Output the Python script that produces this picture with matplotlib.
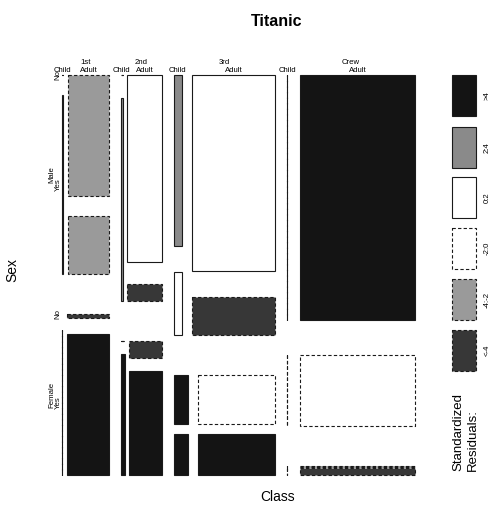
import numpy as np
import matplotlib
matplotlib.use("Agg")
import matplotlib.pyplot as plt
from matplotlib.patches import Rectangle

plt.rcParams['font.family'] = ['Liberation Sans', 'DejaVu Sans']

# Titanic passenger counts: Class x Sex x Age x Survived
classes = ["1st", "2nd", "3rd", "Crew"]
sexes = ["Male", "Female"]
ages = ["Child", "Adult"]
survived = ["No", "Yes"]

# [class][sex] -> (Child No, Child Yes, Adult No, Adult Yes)
male_counts = [
    [0, 5, 118, 57],
    [0, 11, 154, 14],
    [35, 13, 387, 75],
    [0, 0, 670, 192],
]
female_counts = [
    [0, 1, 4, 140],
    [0, 13, 13, 80],
    [17, 14, 89, 76],
    [0, 0, 3, 20],
]

obs = np.zeros((4, 2, 2, 2))
for c in range(4):
    obs[c, 0] = np.array(male_counts[c]).reshape(2, 2)
    obs[c, 1] = np.array(female_counts[c]).reshape(2, 2)

# Expected counts under mutual independence, Pearson residuals
N = obs.sum()
m = [obs.sum(axis=tuple(j for j in range(4) if j != i)) / N for i in range(4)]
expected = N * np.einsum('i,j,k,l->ijkl', *m)
resid = (obs - expected) / np.sqrt(expected)

breaks = [-np.inf, -4, -2, 0, 2, 4, np.inf]
legend_labels = ["<-4", "-4:-2", "-2:0", "0:2", "2:4", ">4"]
fills = ["#373737", "#9a9a9a", "#ffffff", "#ffffff", "#8a8a8a", "#141414"]
styles = [(0, (3, 2))] * 3 + ["solid"] * 3

def shade_index(r):
    for i in range(6):
        if breaks[i] <= r < breaks[i + 1]:
            return i
    return 5

fig = plt.figure(figsize=(4.93, 5.05), dpi=100)
ax = fig.add_axes([0, 0, 1, 1])
ax.set_xlim(0, 493)
ax.set_ylim(505, 0)
ax.axis("off")

OFF = 0.10
label_pos = {}

def proportions(prefix):
    lev = len(prefix)
    p = tuple(prefix)
    while True:
        sub = obs[p]
        other = tuple(j for j in range(sub.ndim) if j != lev - (4 - sub.ndim))
        tot = sub.sum(axis=other) if other else sub
        if tot.sum() > 0 or len(p) == 0:
            return tot / tot.sum()
        p = p[:-1]

def cell(prefix, x1, x2, y1, y2):
    lev = len(prefix)
    if lev == 4:
        k = shade_index(resid[tuple(prefix)])
        ax.add_patch(Rectangle((x1, y1), x2 - x1, y2 - y1, facecolor=fills[k],
                               edgecolor="#1a1a1a", linewidth=0.8,
                               linestyle=styles[k]))
        return
    props = proportions(prefix)
    n = len(props)
    horizontal = (lev % 2 == 0)
    size = (x2 - x1) if horizontal else (y2 - y1)
    white = OFF * size / max(1, n - 1)
    start = x1 if horizontal else y1
    for i, p in enumerate(props):
        end = start + (1 - OFF) * p * size
        label_pos.setdefault((tuple(prefix), i), (start + end) / 2)
        if horizontal:
            cell(prefix + [i], start, end, y1, y2)
        else:
            cell(prefix + [i], x1, x2, start, end)
        start = end + white

cell([], 62, 415, 75, 475)

fs_small = 5.6
for c, name in enumerate(classes):
    ax.text(label_pos[((), c)], 62, name, ha="center", va="center", fontsize=fs_small)
    for a, an in enumerate(ages):
        ax.text(label_pos[((c, 0), a)], 70, an, ha="center", va="center", fontsize=fs_small)
for s, sn in enumerate(sexes):
    ax.text(52, label_pos[((0,), s)], sn, ha="center", va="center",
            rotation=90, fontsize=fs_small)
    for v, vn in enumerate(survived):
        ax.text(58, label_pos[((0, s, 0), v)], vn, ha="center", va="center",
                rotation=90, fontsize=fs_small)

ax.text(277, 22, "Titanic", ha="center", va="center", fontsize=11.5, fontweight="bold")
ax.text(278, 497, "Class", ha="center", va="center", fontsize=10)
ax.text(12, 270, "Sex", ha="center", va="center", rotation=90, fontsize=10)

# Legend of residual classes, largest at top
box_tops = [75, 127, 177, 228, 279, 330]
for j, k in enumerate(range(5, -1, -1)):
    ax.add_patch(Rectangle((452, box_tops[j]), 24, 41, facecolor=fills[k],
                           edgecolor="#1a1a1a", linewidth=0.8, linestyle=styles[k]))
    ax.text(487, box_tops[j] + 20.5, legend_labels[k], ha="center", va="center",
            rotation=90, fontsize=fs_small)

ax.text(458, 471, "Standardized", rotation=90, rotation_mode="anchor",
        ha="left", va="center", fontsize=9.5)
ax.text(473, 471, "Residuals:", rotation=90, rotation_mode="anchor",
        ha="left", va="center", fontsize=9.5)

fig.savefig("out.png", dpi=100)
